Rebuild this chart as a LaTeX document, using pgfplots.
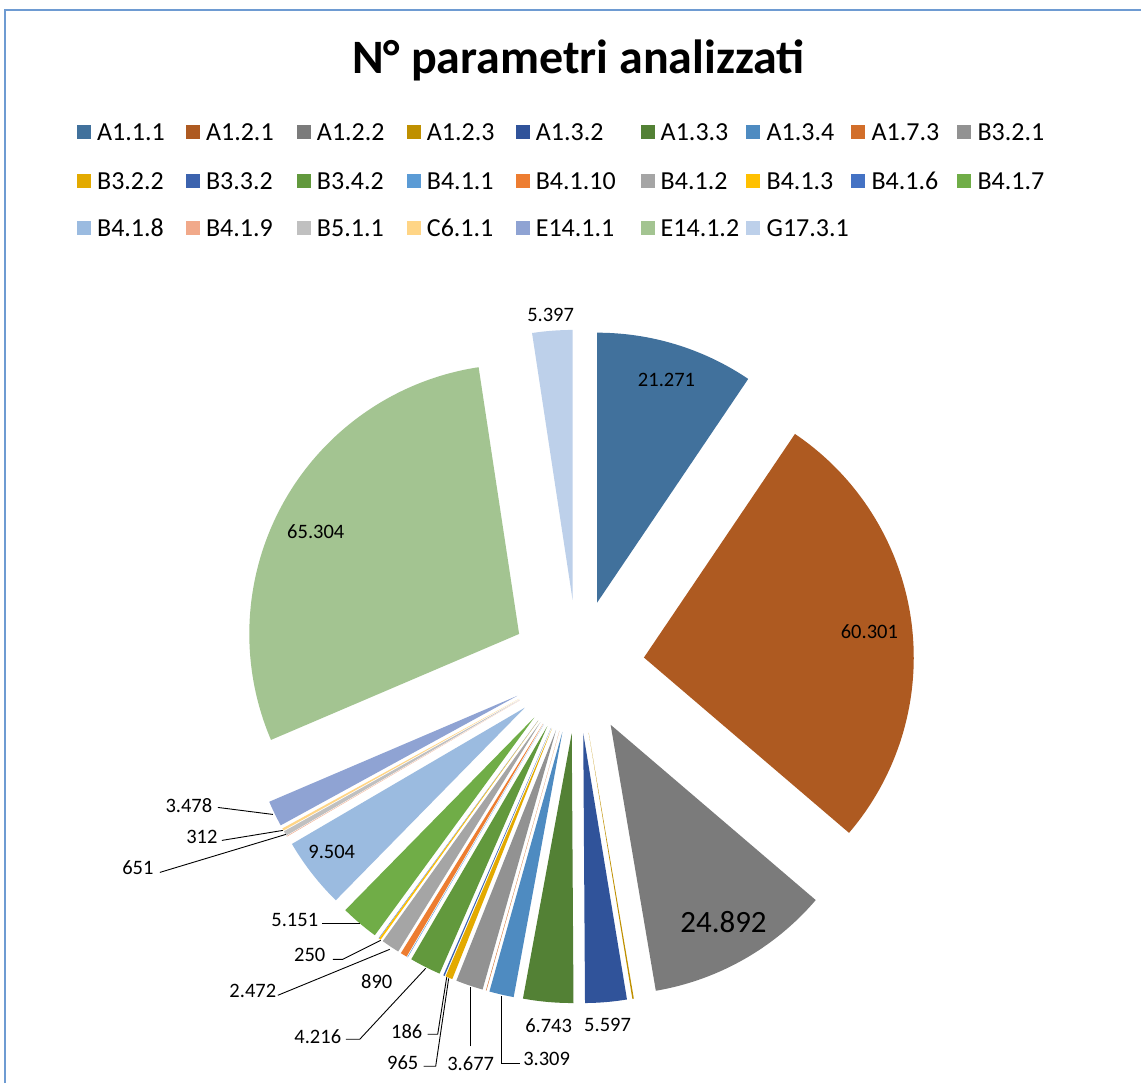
\documentclass[border=0pt]{standalone}
\usepackage{pgfplots}
\usepackage{pgfplotstable}
\pgfplotsset{compat=1.18}
\usepackage{fontspec}
\setmainfont{Carlito}

\definecolor{c1}{HTML}{41719C}
\definecolor{c2}{HTML}{AE5A21}
\definecolor{c3}{HTML}{7B7B7B}
\definecolor{c4}{HTML}{BF9000}
\definecolor{c5}{HTML}{30539A}
\definecolor{c6}{HTML}{538135}
\definecolor{c7}{HTML}{4E8BC1}
\definecolor{c8}{HTML}{D26E2A}
\definecolor{c9}{HTML}{929292}
\definecolor{c10}{HTML}{E3AA00}
\definecolor{c11}{HTML}{3C63AE}
\definecolor{c12}{HTML}{62993D}
\definecolor{c13}{HTML}{5B9BD5}
\definecolor{c14}{HTML}{ED7D31}
\definecolor{c15}{HTML}{A5A5A5}
\definecolor{c16}{HTML}{FFC000}
\definecolor{c17}{HTML}{4472C4}
\definecolor{c18}{HTML}{70AD47}
\definecolor{c19}{HTML}{9BBBE0}
\definecolor{c20}{HTML}{F1A98A}
\definecolor{c21}{HTML}{C0C0C0}
\definecolor{c22}{HTML}{FFD586}
\definecolor{c23}{HTML}{8FA3D3}
\definecolor{c24}{HTML}{A3C491}
\definecolor{c25}{HTML}{BDD0EA}
\definecolor{frame}{RGB}{110,155,210}

% values in thousands (Italian notation 21.271 = 21271)
\pgfplotstableread{
name    val    col
A1.1.1  21.271 c1
A1.2.1  60.301 c2
A1.2.2  24.892 c3
A1.2.3  0.200  c4
A1.3.2  5.597  c5
A1.3.3  6.743  c6
A1.3.4  3.309  c7
A1.7.3  0.060  c8
B3.2.1  3.677  c9
B3.2.2  0.965  c10
B3.3.2  0.186  c11
B3.4.2  4.216  c12
B4.1.1  0.060  c13
B4.1.10 0.890  c14
B4.1.2  2.472  c15
B4.1.3  0.250  c16
B4.1.6  0.040  c17
B4.1.7  5.151  c18
B4.1.8  9.504  c19
B4.1.9  0.060  c20
B5.1.1  0.651  c21
C6.1.1  0.312  c22
E14.1.1 3.478  c23
E14.1.2 65.304 c24
G17.3.1 5.397  c25
}\piedata

\pgfplotstablegetrowsof{\piedata}
\pgfmathtruncatemacro\nrows{\pgfplotsretval-1}
\def\total{0}
\pgfplotsforeachungrouped \i in {0,...,\nrows}{%
  \pgfplotstablegetelem{\i}{val}\of\piedata
  \pgfmathsetmacro\total{\total+\pgfplotsretval}%
}

\newcommand\legfont{\fontsize{26}{31}\selectfont}
\newcommand\labfont{\fontsize{20.5}{24}\selectfont}
\newcommand\leg[4]{%
  \fill[#3] (axis cs:#1,1084-#2-7) rectangle (axis cs:#1+14,1084-#2+7);
  \node[anchor=west,inner sep=0pt,font=\legfont] at (axis cs:#1+20,1084-#2) {#4};}
\newcommand\lab[3]{%
  \node[inner sep=0pt,font=\labfont] at (axis cs:#1,1084-#2) {#3};}

\begin{document}
\begin{tikzpicture}
\begin{axis}[
  scale only axis, width=1142pt, height=1084pt,
  xmin=0, xmax=1142, ymin=0, ymax=1084,
  hide axis, clip=false]
\path[fill=white] (axis cs:0,0) rectangle (axis cs:1142,1084);
\draw[frame, line width=1.6pt] (axis cs:5,0) -- (axis cs:5,1084-10) -- (axis cs:1142,1084-10);

% pie slices (clockwise from 12 o'clock, exploded)
\def\cum{0}
\pgfplotsforeachungrouped \i in {0,...,\nrows}{%
  \pgfplotstablegetelem{\i}{val}\of\piedata \let\sv\pgfplotsretval
  \pgfplotstablegetelem{\i}{col}\of\piedata \let\scol\pgfplotsretval
  \pgfmathsetmacro\sa{90-360*(\cum/\total)}%
  \pgfmathsetmacro\cum{\cum+\sv}%
  \pgfmathsetmacro\ea{90-360*(\cum/\total)}%
  \pgfmathsetmacro\md{(\sa+\ea)/2}%
  \pgfmathsetmacro\ax{578+67*cos(\md)}%
  \pgfmathsetmacro\ay{417+67*sin(\md)}%
  \edef\temp{\noexpand\fill[\scol] (axis cs:\ax,\ay) -- ++(\sa:270) arc[start angle=\sa, end angle=\ea, radius=270] -- cycle;}%
  \temp
}

% title
\node[font=\fontsize{48}{57}\selectfont\bfseries] at (axis cs:579,1084-60) {N° parametri analizzati};

% legend
\leg{77}{132}{c1}{A1.1.1}
\leg{186}{132}{c2}{A1.2.1}
\leg{297}{132}{c3}{A1.2.2}
\leg{407}{132}{c4}{A1.2.3}
\leg{516}{132}{c5}{A1.3.2}
\leg{641}{132}{c6}{A1.3.3}
\leg{747}{132}{c7}{A1.3.4}
\leg{852}{132}{c8}{A1.7.3}
\leg{958}{132}{c9}{B3.2.1}
\leg{77}{181}{c10}{B3.2.2}
\leg{186}{181}{c11}{B3.3.2}
\leg{297}{181}{c12}{B3.4.2}
\leg{407}{181}{c13}{B4.1.1}
\leg{516}{181}{c14}{B4.1.10}
\leg{641}{181}{c15}{B4.1.2}
\leg{747}{181}{c16}{B4.1.3}
\leg{852}{181}{c17}{B4.1.6}
\leg{958}{181}{c18}{B4.1.7}
\leg{77}{228}{c19}{B4.1.8}
\leg{186}{228}{c20}{B4.1.9}
\leg{297}{228}{c21}{B5.1.1}
\leg{407}{228}{c22}{C6.1.1}
\leg{516}{228}{c23}{E14.1.1}
\leg{641}{228}{c24}{E14.1.2}
\leg{747}{228}{c25}{G17.3.1}

% data labels
\lab{667}{380}{21.271}
\lab{870}{632}{60.301}
\node[inner sep=0pt,font=\fontsize{31}{36}\selectfont] at (axis cs:724,1084-923) {24.892};
\lab{316}{532}{65.304}
\lab{551}{315}{5.397}
\lab{332}{853}{9.504}
\lab{377}{982}{890}
\lab{549}{1026}{6.743}
\lab{608}{1026}{5.597}
\lab{189}{806}{3.478}
\lab{202}{838}{312}
\lab{138}{868}{651}
\lab{295}{921}{5.151}
\lab{310}{956}{250}
\lab{253}{992}{2.472}
\lab{318}{1037}{4.216}
\lab{407}{1032}{186}
\lab{403}{1063}{965}
\lab{471}{1064}{3.677}
\lab{547}{1060}{3.309}

% leader lines
\begin{scope}[black, line width=0.9pt]
\draw (axis cs:218,1084-808) -- (axis cs:273,1084-815);
\draw (axis cs:222,1084-841) -- (axis cs:283,1084-831);
\draw (axis cs:160,1084-873) -- (axis cs:286,1084-835);
\draw (axis cs:322,1084-924) -- (axis cs:360,1084-924);
\draw (axis cs:333,1084-960) -- (axis cs:343,1084-960) -- (axis cs:381,1084-941);
\draw (axis cs:278,1084-996) -- (axis cs:390,1084-950);
\draw (axis cs:346,1084-1040) -- (axis cs:360,1084-1040) -- (axis cs:426,1084-969);
\draw (axis cs:428,1084-1035) -- (axis cs:438,1084-1035) -- (axis cs:447,1084-978);
\draw (axis cs:424,1084-1067) -- (axis cs:436,1084-1067) -- (axis cs:449,1084-979);
\draw (axis cs:471,1084-1047) -- (axis cs:471,1084-988);
\draw (axis cs:520,1084-1064) -- (axis cs:502,1084-1064) -- (axis cs:502,1084-997);
\end{scope}
\end{axis}
\end{tikzpicture}
\end{document}
